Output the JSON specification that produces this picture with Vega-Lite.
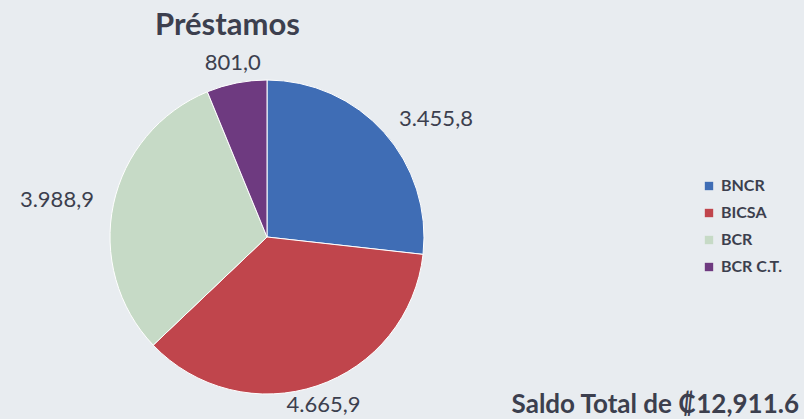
{
  "$schema": "https://vega.github.io/schema/vega-lite/v6.json",
  "background": "#e8ecf0",
  "padding": {"left": 0, "top": 10, "right": 5, "bottom": 0},
  "config": {
    "view": {"stroke": null},
    "locale": {"number": {"decimal": ",", "thousands": ".", "grouping": [3], "currency": ["₡", ""]}}
  },
  "title": {"text": "Préstamos", "anchor": "start", "dx": 155, "fontSize": 31, "font": "Lato", "fontWeight": "bold", "color": "#3c3f4e", "offset": -2},
  "vconcat": [
    {
      "width": 534,
      "height": 394,
      "title": {"text": "Saldo Total de ₡12,911.6", "orient": "bottom", "anchor": "end", "dx": 265, "offset": -42, "fontSize": 26, "font": "Lato", "fontWeight": "bold", "color": "#3c3f4e"},
      "data": {"values": [
        {"banco": "BNCR", "saldo": 3455.8, "orden": 1},
        {"banco": "BICSA", "saldo": 4665.9, "orden": 2},
        {"banco": "BCR", "saldo": 3988.9, "orden": 3},
        {"banco": "BCR C.T.", "saldo": 801.0, "orden": 4}
      ]},
      "encoding": {
        "theta": {"field": "saldo", "type": "quantitative", "stack": true},
        "order": {"field": "orden", "type": "quantitative"}
      },
      "layer": [
        {
          "mark": {"type": "arc", "outerRadius": 157, "stroke": "#ffffff", "strokeWidth": 1},
          "encoding": {
            "color": {
              "field": "banco", "type": "nominal",
              "scale": {"domain": ["BNCR", "BICSA", "BCR", "BCR C.T."], "range": ["#3f6db5", "#c0454c", "#c6dac6", "#6e3a80"]},
              "legend": {"title": null, "orient": "none", "legendX": 701, "legendY": 138, "symbolType": "square", "symbolSize": 70, "labelFontSize": 16, "labelFont": "Lato", "labelFontWeight": "bold", "labelColor": "#3c3f4e", "rowPadding": 11, "symbolStrokeWidth": 0}
            }
          }
        },
        {
          "mark": {"type": "text", "radius": 177, "fontSize": 22, "font": "Lato", "color": "#3c3f4e",
            "align": {"expr": "datum.banco == 'BNCR' ? 'left' : (datum.banco == 'BCR' ? 'right' : 'center')"}},
          "encoding": {
            "text": {"field": "saldo", "type": "quantitative", "format": ",.1f"},
            "detail": {"field": "banco"}
          }
        }
      ]
    }
  ]
}
